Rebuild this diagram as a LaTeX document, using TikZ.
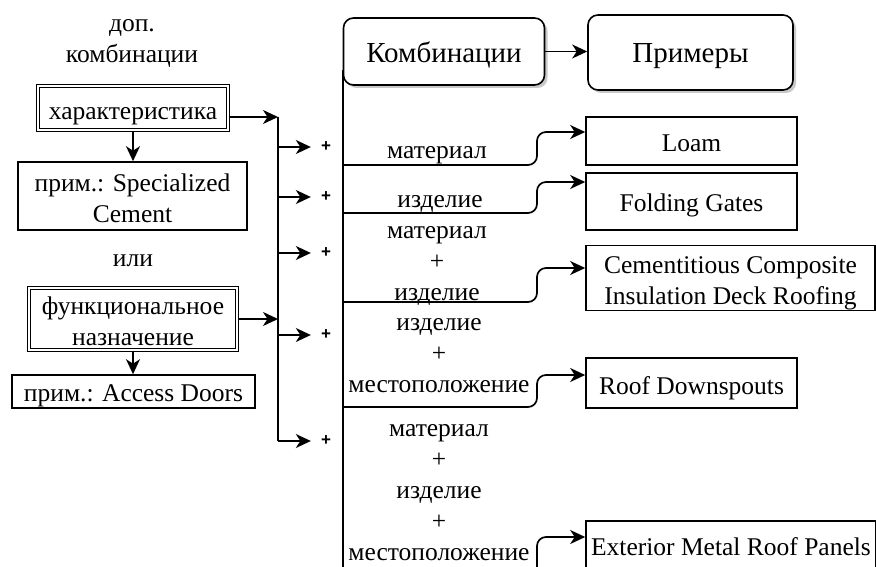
\documentclass[tikz,border=0pt]{standalone}
\usepackage{fontspec}
\setmainfont{Liberation Serif}
\setsansfont{Liberation Sans}
\usetikzlibrary{arrows.meta,shadows,calc}
\newcommand\myfs{\fontsize{25.5}{31}\selectfont}
\newcommand\myfh{\fontsize{29}{34}\selectfont}
\newcommand\myfp{\sffamily\bfseries\fontsize{17}{18}\selectfont}
% text block: rows of fixed height, lowered without changing its box
\newcommand\tl[2][0pt]{\raisebox{\dimexpr-#1-3pt\relax}[\height][\depth]{\begin{tabular}{@{}c@{}}#2\end{tabular}}}
\begin{document}
\begin{tikzpicture}[x=1pt,y=-1pt,
  box/.style={draw, line width=1.6pt, inner sep=0pt, font=\myfs},
  dbox/.style={box, double, double distance=2pt, line width=1.1pt},
  rbox/.style={box, rounded corners=10pt, fill=white, font=\myfh,
    drop shadow={shadow xshift=3pt, shadow yshift=-3pt, fill=black!35, opacity=0.6}},
  arr/.style={line width=1.7pt, -{Stealth[length=15pt,width=14pt,inset=4.5pt]}},
  conn/.style={arr, rounded corners=9pt},
  lbl/.style={inner sep=0pt, font=\myfs},
  plus/.style={inner xsep=10pt, inner ysep=0pt, font=\myfp}]
\useasboundingbox (0,0) rectangle (876,567);
\clip (0,0) rectangle (876,567);
\fill[white] (0,0) rectangle (876,567);

% left column
\node[lbl] (dop) at (132,38) {\tl{доп.\\комбинации}};
\node[dbox, minimum width=190pt, minimum height=44pt] (char) at (133,108) {\tl[2pt]{характеристика}};
\node[box, minimum width=229pt, minimum height=68pt] (ex1) at (132.5,196) {\tl[1.5pt]{прим.: Specialized\\Cement}};
\node[lbl] (ili) at (133,257.5) {\tl{или}};
\node[dbox, minimum width=208pt, minimum height=62pt] (func) at (133,319) {\tl[1.5pt]{функциональное\\назначение}};
\node[box, minimum width=243pt, minimum height=33pt] (ex2) at (133.5,391.5) {\tl[0.5pt]{прим.: Access Doors}};

\draw[arr] (char.south) -- (char.south |- ex1.north);
\draw[arr] (func.south) -- (func.south |- ex2.north);

\coordinate (j1) at (278,117);
\coordinate (j2) at (278,441);
\draw[line width=1.7pt] (j1) -- (j2);
\draw[arr] (char.east |- j1) -- (j1);
\draw[arr] (func.east) -- (func.east -| j1);
\foreach \yy [count=\i] in {147,197,253,335,441} {
  \node[plus] (p\i) at (326,\yy) {+};
  \coordinate (b\i) at (278,\yy);
  \draw[arr] (b\i) -- (p\i.west);
}

% right part
\node[rbox, minimum width=201pt, minimum height=67pt] (komb) at (444,51.5) {\tl[1pt]{Комбинации}};
\node[rbox, minimum width=205pt, minimum height=75pt] (prim) at (690.5,52.5) {\tl{Примеры}};
\draw[arr] (komb.east) -- (komb.east -| prim.west);

\node[box, minimum width=211pt, minimum height=48pt] (loam) at (691.5,141) {\tl[1pt]{Loam}};
\node[box, minimum width=211pt, minimum height=57pt] (fold) at (691.5,201.5) {\tl[1pt]{Folding Gates}};
\node[box, minimum width=289pt, minimum height=65pt] (cem) at (730.5,278) {\tl[1.5pt]{Cementitious Composite\\Insulation Deck Roofing}};
\node[box, minimum width=211pt, minimum height=50pt] (roof) at (691.5,383) {\tl[2pt]{Roof Downspouts}};
\node[box, minimum width=290pt, minimum height=48pt] (ext) at (731,545) {\tl[1.5pt]{Exterior Metal Roof Panels}};

\coordinate (s0) at (343,70);
\coordinate (s6) at (343,590);
\draw[line width=1.7pt] (s0) -- (s6);

\coordinate (c1) at (343,165);
\coordinate (c2) at (343,213);
\coordinate (c3) at (343,302);
\coordinate (c4) at (343,407);
\coordinate (c5) at (343,577);
\draw[conn] (c1) -- (537,165) |- ($(loam.west)+(0,-9)$);
\draw[conn] (c2) -- (537,213) |- ($(fold.west)+(0,-19.5)$);
\draw[conn] (c3) -- (537,302) |- ($(cem.west)+(0,-10)$);
\draw[conn] (c4) -- (537,407) |- ($(roof.west)+(0,-8)$);
\draw[conn] (c5) -- (537,577) |- ($(ext.west)+(0,-8)$);

\node[lbl] (l1) at (437,149.5) {\tl{материал}};
\node[lbl] (l2) at (440,198) {\tl{изделие}};
\node[lbl] (l3) at (437,260.5) {\tl{материал\\+\\изделие}};
\node[lbl] (l4) at (439,352.5) {\tl{изделие\\+\\местоположение}};
\node[lbl] (l5) at (439,489.5) {\tl{материал\\+\\изделие\\+\\местоположение}};
\end{tikzpicture}
\end{document}
